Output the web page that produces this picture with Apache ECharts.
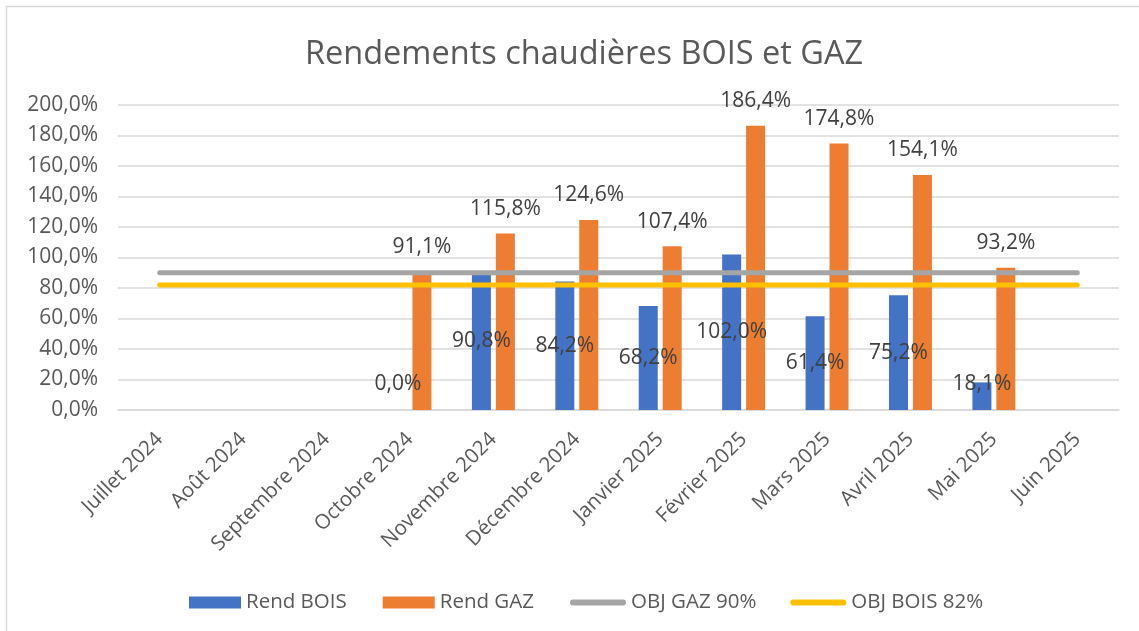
<!DOCTYPE html>
<html>
<head>
<meta charset="utf-8">
<script src="https://cdn.jsdelivr.net/npm/echarts@6/dist/echarts.min.js"></script>
<style>
  html, body { margin: 0; padding: 0; background: #fff; }
  #chart { width: 1139px; height: 631px; }
</style>
</head>
<body>
<div id="chart"></div>
<script>
var categories = ['Juillet 2024', 'Août 2024', 'Septembre 2024', 'Octobre 2024', 'Novembre 2024', 'Décembre 2024',
  'Janvier 2025', 'Février 2025', 'Mars 2025', 'Avril 2025', 'Mai 2025', 'Juin 2025']
var rendBois = [null, null, null, 0, 90.8, 84.2, 68.2, 102.0, 61.4, 75.2, 18.1, null]
var rendGaz = [null, null, null, 91.1, 115.8, 124.6, 107.4, 186.4, 174.8, 154.1, 93.2, null]
var objGaz = [90, 90, 90, 90, 90, 90, 90, 90, 90, 90, 90, 90]
var objBois = [82, 82, 82, 82, 82, 82, 82, 82, 82, 82, 82, 82]

var FONT = 'Open Sans'
var TXT = '#595959'
var LINE_ICON = 'path://M3,0 h50 a3,3 0 0 1 0,6 h-50 a3,3 0 0 1 0,-6 Z'

function pct(v) {
  return v.toFixed(1).replace('.', ',') + '%'
}

// small bois values: label sits near the base instead of the middle
var boisData = rendBois.map(function (v) {
  if (v !== null && v < 30) {
    return { value: v, label: { position: 'insideBottom', distance: 15 } }
  }
  return v
})

var chart = echarts.init(document.getElementById('chart'))

var legendText = { fontFamily: FONT, fontSize: 20.5, color: TXT }

var option = {
  animation: false,
  textStyle: { fontFamily: FONT },
  title: {
    text: 'Rendements chaudières BOIS et GAZ',
    left: 300,
    top: 33,
    textStyle: { fontFamily: FONT, fontSize: 32.5, fontWeight: 'normal', color: TXT }
  },
  graphic: [{
    type: 'rect',
    shape: { x: 6.5, y: 6.5, width: 1300, height: 800 },
    style: { fill: 'none', stroke: '#D9D9D9', lineWidth: 1.5 },
    silent: true
  }],
  legend: [
    {
      top: 587,
      left: 184,
      itemGap: 36,
      itemWidth: 52,
      itemHeight: 12,
      textStyle: legendText,
      data: [
        { name: 'Rend BOIS', icon: 'rect' },
        { name: 'Rend GAZ', icon: 'rect' }
      ]
    },
    {
      top: 587,
      left: 565,
      itemGap: 34,
      itemWidth: 56,
      itemHeight: 12,
      textStyle: legendText,
      data: [
        { name: 'OBJ GAZ 90%', icon: LINE_ICON },
        { name: 'OBJ BOIS 82%', icon: LINE_ICON }
      ]
    }
  ],
  grid: { left: 118, right: 20, top: 105, bottom: 221 },
  xAxis: {
    type: 'category',
    data: categories,
    axisLine: { lineStyle: { color: '#D9D9D9', width: 1.5 } },
    axisTick: { show: false },
    axisLabel: {
      rotate: 45,
      margin: 26,
      fontFamily: FONT,
      fontSize: 20.5,
      color: TXT,
      interval: 0
    }
  },
  yAxis: {
    type: 'value',
    min: 0,
    max: 200,
    interval: 20,
    axisLine: { show: false },
    axisTick: { show: false },
    splitLine: { lineStyle: { color: '#D9D9D9', width: 1.5 } },
    axisLabel: {
      margin: 20,
      fontFamily: FONT,
      fontSize: 21,
      color: TXT,
      formatter: function (v) { return pct(v) }
    }
  },
  series: [
    {
      name: 'Rend BOIS',
      type: 'bar',
      data: boisData,
      barWidth: 19,
      barGap: '26%',
      itemStyle: { color: '#4472C4' },
      label: {
        show: true,
        position: 'inside',
        fontFamily: FONT,
        fontSize: 21,
        color: '#404040',
        formatter: function (p) { return pct(p.value) }
      }
    },
    {
      name: 'Rend GAZ',
      type: 'bar',
      data: rendGaz,
      barWidth: 19,
      itemStyle: { color: '#ED7D31' },
      label: {
        show: true,
        position: 'top',
        distance: 14,
        fontFamily: FONT,
        fontSize: 21,
        color: '#404040',
        formatter: function (p) { return pct(p.value) }
      }
    },
    {
      name: 'OBJ GAZ 90%',
      type: 'line',
      data: objGaz,
      symbol: 'none',
      itemStyle: { color: '#A5A5A5' },
      lineStyle: { color: '#A5A5A5', width: 5, cap: 'round' },
      z: 3
    },
    {
      name: 'OBJ BOIS 82%',
      type: 'line',
      data: objBois,
      symbol: 'none',
      itemStyle: { color: '#FFC000' },
      lineStyle: { color: '#FFC000', width: 5, cap: 'round' },
      z: 3
    }
  ]
}

chart.setOption(option)
window.addEventListener('resize', function () {
  chart.resize()
})
</script>
</body>
</html>
